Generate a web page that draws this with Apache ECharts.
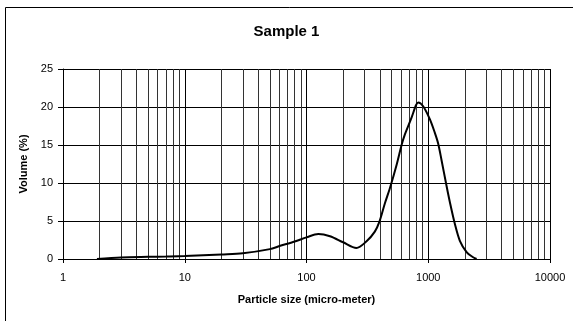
<!DOCTYPE html>
<html>
<head>
<meta charset="utf-8">
<script src="https://cdn.jsdelivr.net/npm/echarts@6/dist/echarts.min.js"></script>
<style>
html,body{margin:0;padding:0;background:#fff;}
#c{width:573px;height:321px;}
</style>
</head>
<body>
<div id="c"></div>
<script>
var titleText = "Sample 1";
var xName = "Particle size (micro-meter)";
var yName = "Volume (%)";
var sizes = [1.9, 3, 5, 7, 10, 20, 30, 50, 60, 80, 100, 125, 156, 200, 257, 310, 364, 398, 440, 484, 550, 604, 643, 729, 791, 826, 908, 1030, 1133, 1206, 1286, 1414, 1504, 1655, 1818, 2065, 2300, 2495];
var volumes = [0, 0.2, 0.28, 0.32, 0.38, 0.6, 0.75, 1.3, 1.7, 2.3, 2.85, 3.3, 3.0, 2.2, 1.45, 2.3, 3.6, 4.95, 7.3, 9.3, 12.4, 15.0, 16.4, 18.6, 20.2, 20.6, 20.1, 18.4, 16.6, 15.2, 13.0, 9.6, 7.5, 4.6, 2.4, 0.9, 0.3, 0];
var yMin = 0, yMax = 25, yStep = 5;
var xMin = 1, xMax = 10000;
var minorMultipliers = [2, 3, 4, 5, 6, 7, 8, 9];
var decades = [1, 10, 100, 1000];

var minorGrid = [];
decades.forEach(function (d) {
  minorMultipliers.forEach(function (m) { minorGrid.push({ xAxis: d * m }); });
});

var chart = echarts.init(document.getElementById('c'));
chart.setOption({
  animation: false,
  backgroundColor: '#fff',
  textStyle: { fontFamily: 'Liberation Sans, Arial, sans-serif' },
  title: {
    text: titleText,
    left: 'center',
    top: 19,
    textStyle: { fontSize: 15, fontWeight: 'bold', color: '#000', fontFamily: 'Liberation Sans, Arial, sans-serif' }
  },
  graphic: [{
    type: 'rect',
    shape: { x: 5.5, y: 7.5, width: 700, height: 500 },
    style: { fill: 'none', stroke: '#000', lineWidth: 1 },
    silent: true
  }],
  grid: { left: 63, top: 69, right: 23, bottom: 62, containLabel: false },
  xAxis: {
    type: 'log',
    logBase: 10,
    min: xMin,
    max: xMax,
    name: xName,
    nameLocation: 'middle',
    nameGap: 35,
    nameTextStyle: { fontSize: 11, fontWeight: 'bold', color: '#000' },
    axisLine: { show: true, lineStyle: { color: '#000', width: 1 } },
    axisTick: { show: true, length: 4, lineStyle: { color: '#000' } },
    axisLabel: { color: '#000', fontSize: 11, margin: 13, formatter: function (v) { return String(Math.round(v)); } },
    splitLine: { show: true, lineStyle: { color: '#000', width: 1 } }
  },
  yAxis: {
    type: 'value',
    min: yMin,
    max: yMax,
    interval: yStep,
    name: yName,
    nameLocation: 'middle',
    nameRotate: 90,
    nameGap: 31,
    nameTextStyle: { fontSize: 11, fontWeight: 'bold', color: '#000' },
    axisLine: { show: true, lineStyle: { color: '#000', width: 1 } },
    axisTick: { show: true, length: 5, lineStyle: { color: '#000' } },
    axisLabel: { color: '#000', fontSize: 11, margin: 10 },
    splitLine: { show: true, lineStyle: { color: '#000', width: 1 } }
  },
  series: [{
    type: 'line',
    data: sizes.map(function (s, i) { return [s, volumes[i]]; }),
    smooth: 0.3,
    showSymbol: false,
    lineStyle: { color: '#000', width: 2 },
    z: 5,
    markLine: {
      silent: true,
      symbol: ['none', 'none'],
      label: { show: false },
      lineStyle: { color: '#333', width: 1, type: 'solid' },
      emphasis: { disabled: true },
      data: minorGrid,
      z: 1
    }
  }]
});
</script>
</body>
</html>
